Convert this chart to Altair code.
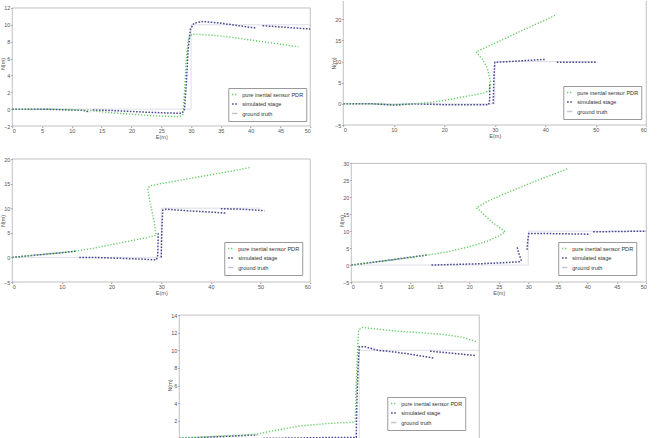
import altair as alt
import pandas as pd

SERIES = ["pure inertial sensor PDR", "simulated stage", "ground truth"]
COLORS = ["#5fcb5f", "#4a4890", "#c4c4d6"]
DASHES = [[1.2, 1.8], [1.6, 1.5], [1, 0]]
WIDTHS = [1.4, 1.5, 0.6]

GT = [[(0, 0), (30, 0), (30, 10), (50, 10)]]

# ---- panel 1 ----
P1_PDR = [[(0, 0), (5, 0), (10, -0.05), (13, -0.15), (16, -0.4), (20, -0.6), (24, -0.8), (28, -0.9),
           (28.6, -0.7), (28.9, 2), (29.2, 6), (29.6, 8.5), (30.2, 8.9), (33, 8.8), (36, 8.6),
           (40, 8.2), (44, 7.8), (48, 7.4)]]
P1_SIM = [[(0, 0), (5, 0), (10, -0.1), (12, -0.15), (13, -0.35)],
          [(13.5, -0.1), (18, -0.2), (22, -0.35), (26, -0.45), (28.5, -0.5), (28.9, 0), (29.2, 3),
           (29.5, 7), (29.9, 9.5), (30.5, 10.2), (32, 10.4), (35, 10.2), (38, 9.9), (41, 9.6)],
          [(42, 9.9), (46, 9.7), (50, 9.5)]]

# ---- panel 2 ----
P2_PDR = [[(0, 0), (6, 0), (10, -0.2), (14, 0), (17, 0.3), (20, 0.8), (24, 1.7), (28, 2.6), (28.9, 3.2),
           (29.2, 5), (28.5, 8.6), (27.5, 10.6), (26.3, 12.3), (30, 14.3), (35, 17.1), (40, 19.8),
           (42.3, 21.1)]]
P2_SIM = [[(0, 0), (6, 0), (10, -0.3), (14, 0), (20, -0.2), (25, -0.2), (28.8, -0.2), (29, 1), (29, 5)],
          [(29.7, 0), (29.8, 5), (30, 9.8), (33, 10), (37, 10.3), (40, 10.5)],
          [(42.3, 9.8), (46, 9.8), (50.3, 9.8)]]

# ---- panel 3 ----
P3_PDR = [[(0, 0), (5, 0.5), (10, 1.0), (13, 1.3), (16, 1.8), (20, 2.6), (24, 3.4), (27, 4.0), (29, 4.5),
           (28.6, 7), (28, 10), (27.5, 12.5), (27.3, 14.2), (28, 14.6), (30, 15.0), (35, 15.9),
           (40, 16.8), (45, 17.7), (48, 18.3)]]
P3_SIM = [[(0, 0), (5, 0.5), (10, 0.95), (13, 1.3)],
          [(13.5, 0), (18, -0.05), (22, -0.2), (26, -0.35), (29, -0.5), (29.3, 0.5), (29.4, 5)],
          [(30, 0), (30.1, 5), (30.3, 9.6), (31, 9.8), (35, 9.5), (40, 9.2), (43, 9.0)],
          [(42, 9.9), (46, 9.8), (50.8, 9.5)]]

# ---- panel 4 ----
P4_PDR = [[(0, 0), (5, 1.1), (10, 2.2), (13, 3.0), (16, 3.8), (20, 5.4), (23, 7.0), (25, 8.6), (26.1, 9.8),
           (24, 12.5), (21.5, 16.5), (21.2, 16.9), (23, 18.7), (25, 20.3), (28, 22.5), (31, 24.6),
           (34, 26.6), (36.8, 28.5)]]
P4_SIM = [[(0, 0), (5, 1.1), (10, 2.3), (13, 3.0)],
          [(13.6, 0), (18, 0.2), (22, 0.4), (26, 0.7), (28.6, 1.0), (28.8, 1.5), (28.3, 4), (28.1, 5.5)],
          [(29.8, 4.5), (29.9, 7), (30.1, 9.3), (33, 9.3), (37, 9.2), (40.5, 9.1)],
          [(41, 9.8), (45, 9.9), (50, 10)]]

# ---- panel 5 ----
P5_PDR = [[(0, 0.05), (5, 0.2), (10, 0.35), (13, 0.5), (16, 0.9), (20, 1.4), (25, 1.7), (29.3, 1.85),
           (29.5, 6), (29.7, 10), (29.9, 12.3), (30.5, 12.6), (33, 12.4), (36, 12.2), (40, 12.0),
           (44, 11.8), (47, 11.5), (49.5, 11.0)]]
P5_SIM = [[(0, 0), (5, 0.15), (10, 0.3), (13, 0.4)],
          [(14, 0), (20, 0.05), (25, 0.1), (29.5, 0.1), (29.6, 4), (29.8, 8), (30, 10.4), (31, 10.4),
           (33, 10.0), (36, 9.8), (39, 9.5), (42.5, 9.1)],
          [(41.8, 9.9), (45, 9.7), (49.5, 9.4)]]

FONT = "Liberation Sans"
FRAME_COLOR = "#b0b0b0"


def frame(pdr, sim):
    rows = []
    for name, segs in zip(SERIES, [pdr, sim, GT]):
        for k, seg in enumerate(segs):
            for j, (e, n) in enumerate(seg):
                rows.append({"series": name, "key": f"{name}-{k}", "order": j, "E": e, "N": n})
    return pd.DataFrame(rows)


def box(xlim, ylim, top=True):
    x0, x1 = xlim
    y0, y1 = ylim
    rows = [
        {"E": x0, "E2": x0, "N": y0, "N2": y1},
        {"E": x1, "E2": x1, "N": y0, "N2": y1},
        {"E": x0, "E2": x1, "N": y0, "N2": y0},
    ]
    if top:
        rows.append({"E": x0, "E2": x1, "N": y1, "N2": y1})
    return pd.DataFrame(rows)


def panel(pdr, sim, xlim, xticks, ylim, ytop, yticks, w, h, lx, ly, top=True, xlabels=True):
    df = frame(pdr, sim)
    leg = alt.Legend(orient="none", legendX=lx, legendY=ly, title=None, labelFontSize=5.6,
                     labelFont=FONT, labelColor="#333", symbolSize=28, symbolStrokeWidth=1.3,
                     symbolType="stroke", labelOffset=4, padding=3, rowPadding=1.5,
                     strokeColor="#9a9a9a", fillColor="white")
    xscale = alt.Scale(domain=list(xlim), nice=False, zero=False)
    yscale = alt.Scale(domain=[ylim[0], ytop], nice=False, zero=False)
    if xlabels:
        xaxis = alt.Axis(values=xticks, title="E(m)", format="d")
    else:
        xaxis = alt.Axis(values=xticks, title=None, labels=False)
    yaxis = alt.Axis(values=yticks, title="N(m)", format="d")
    xenc = alt.X("E:Q", scale=xscale, axis=xaxis)
    yenc = alt.Y("N:Q", scale=yscale, axis=yaxis)
    cenc = alt.Color("series:N", scale=alt.Scale(domain=SERIES, range=COLORS), legend=leg)
    denc = alt.StrokeDash("series:N", scale=alt.Scale(domain=SERIES, range=DASHES), legend=leg)

    layers = [
        alt.Chart(box(xlim, ylim if top else (ylim[0], ytop), top)).mark_rule(
            color=FRAME_COLOR, strokeWidth=0.8
        ).encode(x=xenc, x2="E2:Q", y=yenc, y2="N2:Q")
    ]
    for name, wd in zip(reversed(SERIES), reversed(WIDTHS)):
        layers.append(
            alt.Chart(df).transform_filter(alt.datum.series == name)
            .mark_line(strokeWidth=wd, clip=True)
            .encode(x=xenc, y=yenc, color=cenc, strokeDash=denc, detail="key:N", order="order:Q")
        )
    return alt.layer(*layers).properties(width=w, height=h)


p1 = panel(P1_PDR, P1_SIM, (0, 50), list(range(0, 51, 5)), (-2, 12), 12.83, list(range(-2, 13, 2)),
           298, 125, 216, 87)
p2 = panel(P2_PDR, P2_SIM, (0, 60), list(range(0, 61, 10)), (-5, 25), 24.3, list(range(-5, 21, 5)),
           303, 124, 220, 85, top=False)
p3 = panel(P3_PDR, P3_SIM, (0, 60), list(range(0, 61, 10)), (-5, 20), 20, list(range(-5, 21, 5)),
           298, 123, 212, 83)
p4 = panel(P4_PDR, P4_SIM, (0, 50), list(range(0, 51, 5)), (-5, 30), 31.3, list(range(-5, 31, 5)),
           295, 123, 207, 83)
p5 = panel(P5_PDR, P5_SIM, (0, 50), list(range(0, 51, 5)), (-2, 14), 14.12, list(range(2, 15, 2)),
           300, 142, 208, 83, xlabels=False)

row1 = alt.hconcat(p1, p2, spacing=20).resolve_legend(color="independent", strokeDash="independent")
row2 = alt.hconcat(p3, p4, spacing=28).resolve_legend(color="independent", strokeDash="independent")

chart = (
    alt.vconcat(row1, row2, p5, spacing=17, center=True)
    .resolve_legend(color="independent", strokeDash="independent")
    .properties(padding=0, background="white")
    .configure(font=FONT)
    .configure_view(stroke=None)
    .configure_axis(
        domain=False, grid=False, labelFontSize=5.5, labelColor="#555", titleFontSize=5.5,
        titleColor="#555", titleFontWeight="normal", tickColor="#999", tickSize=1.5,
        labelFont=FONT, titleFont=FONT
    )
    .configure_axisX(labelPadding=0.5, titlePadding=1)
    .configure_axisY(labelPadding=1, titlePadding=0.5, minExtent=6, maxExtent=6)
)

chart.save("out.html", embed_options={"renderer": "svg", "actions": False})
